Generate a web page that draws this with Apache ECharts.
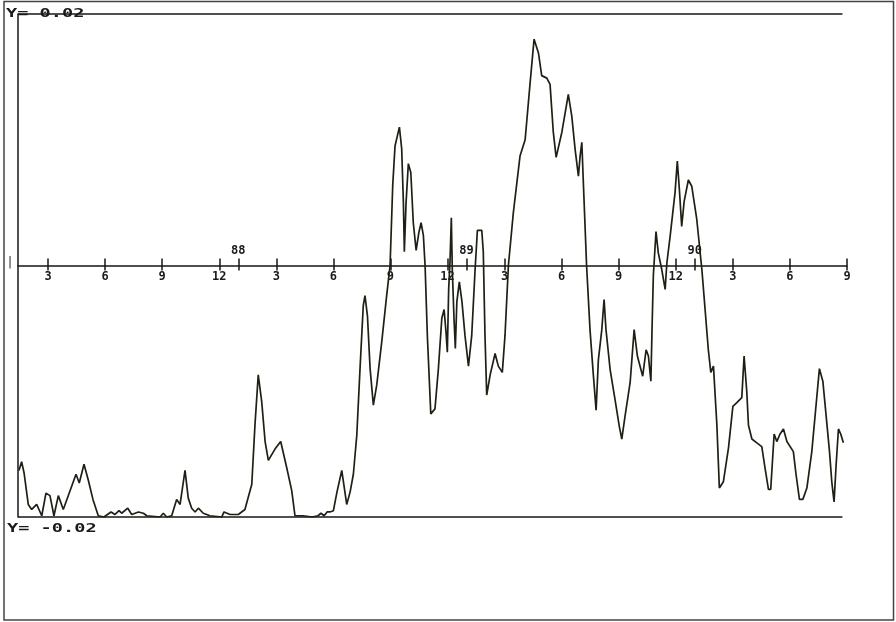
<!DOCTYPE html>
<html>
<head>
<meta charset="utf-8">
<script src="https://cdn.jsdelivr.net/npm/echarts@6/dist/echarts.min.js"></script>
<style>
  html, body { margin: 0; padding: 0; background: #fff; }
  #chart { width: 896px; height: 622px; }
</style>
</head>
<body>
<div id="chart"></div>
<script>
// Time in months counted from December 1986 (13 = January 1988)
var months = [
  1.47, 1.61, 1.74, 1.96, 2.14, 2.40, 2.67, 2.89, 3.10, 3.31, 3.54, 3.80,
  4.47, 4.64, 4.89, 5.12, 5.36, 5.64, 5.94, 6.31, 6.52, 6.73, 6.87, 7.19,
  7.40, 7.75, 8.01, 8.19, 8.89, 9.06, 9.24, 9.50, 9.76, 9.94, 10.20, 10.37,
  10.55, 10.73, 10.90, 11.16, 11.51, 12.13, 12.25, 12.57, 13.00, 13.35, 13.71, 13.88,
  14.05, 14.23, 14.41, 14.58, 14.93, 15.23, 15.55, 15.81, 15.98, 16.40, 16.88, 17.19,
  17.35, 17.51, 17.67, 17.82, 18.00, 18.19, 18.44, 18.70, 18.88, 19.05, 19.23, 19.40,
  19.57, 19.66, 19.79, 19.93, 20.10, 20.28, 20.54, 20.80, 20.98, 21.12, 21.24, 21.47,
  21.59, 21.68, 21.73, 21.82, 21.94, 22.07, 22.20, 22.35, 22.49, 22.61, 22.73, 22.82,
  22.94, 23.12, 23.34, 23.52, 23.70, 23.82, 23.92, 23.99, 24.06, 24.13, 24.20, 24.25,
  24.34, 24.41, 24.49, 24.62, 24.76, 24.92, 25.10, 25.27, 25.45, 25.57, 25.80, 25.88,
  25.97, 26.06, 26.24, 26.50, 26.67, 26.88, 27.02, 27.20, 27.46, 27.81, 28.08, 28.34,
  28.55, 28.78, 28.95, 29.22, 29.39, 29.56, 29.71, 30.01, 30.35, 30.53, 30.71, 30.88,
  30.97, 31.06, 31.14, 31.31, 31.49, 31.67, 31.81, 31.93, 32.11, 32.23, 32.33, 32.55,
  32.81, 33.03, 33.16, 33.33, 33.60, 33.81, 33.98, 34.26, 34.44, 34.56, 34.69, 34.75,
  34.82, 34.96, 35.08, 35.26, 35.44, 35.53, 35.70, 35.96, 36.08, 36.19, 36.31, 36.44,
  36.66, 36.84, 37.10, 37.37, 37.54, 37.71, 37.84, 37.98, 38.16, 38.29, 38.50, 38.77,
  39.00, 39.21, 39.47, 39.59, 39.73, 39.82, 40.00, 40.26, 40.52, 40.69, 40.87, 40.99,
  41.17, 41.31, 41.48, 41.66, 41.84, 42.18, 42.32, 42.50, 42.68, 42.89, 43.15, 43.41,
  43.55, 43.73, 43.90, 44.08, 44.20, 44.32, 44.43, 44.55, 44.67, 44.81
];

var values = [
  -0.0163, -0.0156, -0.0165, -0.0190, -0.0194, -0.0190, -0.0199, -0.0181, -0.0183, -0.0199, -0.0183, -0.0194,
  -0.0166, -0.0173, -0.0158, -0.0171, -0.0186, -0.0199, -0.0200, -0.0196, -0.0198, -0.0195, -0.0197, -0.0193,
  -0.0198, -0.0196, -0.0197, -0.0199, -0.0200, -0.0197, -0.0200, -0.0199, -0.0186, -0.0190, -0.0163, -0.0185,
  -0.0193, -0.0196, -0.0193, -0.0197, -0.0199, -0.0200, -0.0196, -0.0198, -0.0198, -0.0194, -0.0174, -0.0126,
  -0.0087, -0.0108, -0.0140, -0.0155, -0.0146, -0.0140, -0.0161, -0.0179, -0.0199, -0.0199, -0.0200, -0.0199,
  -0.0197, -0.0199, -0.0196, -0.0196, -0.0195, -0.0180, -0.0163, -0.0190, -0.0180, -0.0166, -0.0135, -0.0082,
  -0.0032, -0.0024, -0.0040, -0.0082, -0.0111, -0.0095, -0.0061, -0.0024, 0.0000, 0.0064, 0.0095, 0.0110,
  0.0093, 0.0050, 0.0011, 0.0050, 0.0081, 0.0074, 0.0034, 0.0012, 0.0026, 0.0034, 0.0024, 0.0000,
  -0.0056, -0.0118, -0.0114, -0.0082, -0.0042, -0.0035, -0.0053, -0.0069, -0.0019, 0.0003, 0.0038, -0.0003,
  -0.0042, -0.0066, -0.0029, -0.0013, -0.0029, -0.0056, -0.0080, -0.0056, -0.0003, 0.0028, 0.0028, 0.0011,
  -0.0056, -0.0103, -0.0087, -0.0070, -0.0080, -0.0085, -0.0056, 0.0000, 0.0042, 0.0087, 0.0100, 0.0145,
  0.0180, 0.0169, 0.0151, 0.0149, 0.0144, 0.0106, 0.0086, 0.0106, 0.0136, 0.0119, 0.0092, 0.0071,
  0.0087, 0.0098, 0.0066, 0.0000, -0.0051, -0.0088, -0.0115, -0.0075, -0.0051, -0.0027, -0.0051, -0.0083,
  -0.0107, -0.0128, -0.0138, -0.0120, -0.0093, -0.0051, -0.0072, -0.0088, -0.0067, -0.0072, -0.0092, -0.0051,
  -0.0008, 0.0027, 0.0010, -0.0003, -0.0019, 0.0002, 0.0023, 0.0058, 0.0083, 0.0060, 0.0031, 0.0051,
  0.0068, 0.0063, 0.0037, -0.0003, -0.0035, -0.0067, -0.0085, -0.0080, -0.0127, -0.0177, -0.0172, -0.0145,
  -0.0112, -0.0109, -0.0105, -0.0072, -0.0100, -0.0127, -0.0138, -0.0141, -0.0144, -0.0161, -0.0178, -0.0178,
  -0.0134, -0.0140, -0.0134, -0.0130, -0.0140, -0.0148, -0.0166, -0.0186, -0.0186, -0.0177, -0.0148, -0.0105,
  -0.0082, -0.0092, -0.0119, -0.0148, -0.0172, -0.0188, -0.0158, -0.0130, -0.0134, -0.0141
];

// Quarterly month ticks and their labels
var monthTicks  = [3, 6, 9, 12, 15, 18, 21, 24, 27, 30, 33, 36, 39, 42, 45];
var monthLabels = ['3', '6', '9', '12', '3', '6', '9', '12', '3', '6', '9', '12', '3', '6', '9'];
// January of each new year
var yearTicks  = [13, 25, 37];
var yearLabels = ['88', '89', '90'];

// Horizontal reference levels
var upperLevel = 0.02;
var lowerLevel = -0.02;
var upperText = 'Y= 0.02';
var lowerText = 'Y= -0.02';

var xMin = 1.42, xMax = 45, levelEnd = 44.76;

var gridTop = 14, gridBottom = 105, chartHeight = 622;
// distance from either grid edge to the zero line (grid is symmetric about 0)
var halfPlot = (chartHeight - gridTop - gridBottom) / 2;

var seriesData = months.map(function (m, i) { return [m, values[i]]; });
var allTicks = monthTicks.concat(yearTicks);

var ink = '#161616';
var labelFont = { fontFamily: 'DejaVu Sans Mono', fontWeight: 'bold', fontSize: 12, color: '#1a1a1a' };

var chart = echarts.init(document.getElementById('chart'), null, { renderer: 'canvas' });

chart.setOption({
  animation: false,
  backgroundColor: '#ffffff',
  grid: { left: 18, right: 49, top: gridTop, bottom: gridBottom, containLabel: false, outerBoundsMode: 'none' },
  xAxis: [
    {
      // month axis drawn across the middle (zero) of the plot
      type: 'value', min: xMin, max: xMax, position: 'bottom', offset: -halfPlot,
      splitLine: { show: false },
      axisLine: { show: true, onZero: false, lineStyle: { color: ink, width: 1.5 } },
      axisTick: { show: true, customValues: allTicks, length: 5, lineStyle: { color: ink, width: 1.5 } },
      axisLabel: Object.assign({
        customValues: monthTicks, margin: 5,
        formatter: function (v) {
          var i = monthTicks.indexOf(Math.round(v));
          return i >= 0 ? monthLabels[i] : '';
        }
      }, labelFont)
    },
    {
      // upper half of the ticks plus the year marks
      type: 'value', min: xMin, max: xMax, position: 'top', offset: -halfPlot,
      splitLine: { show: false },
      axisLine: { show: false, onZero: false },
      axisTick: { show: true, customValues: allTicks, length: 7, lineStyle: { color: ink, width: 1.5 } },
      axisLabel: Object.assign({
        customValues: yearTicks, margin: 9,
        formatter: function (v) {
          var i = yearTicks.indexOf(Math.round(v));
          return i >= 0 ? yearLabels[i] : '';
        }
      }, labelFont)
    }
  ],
  yAxis: {
    type: 'value', min: lowerLevel, max: upperLevel,
    splitLine: { show: false },
    axisLine: { show: true, onZero: false, lineStyle: { color: ink, width: 1.5 } },
    axisTick: { show: false },
    axisLabel: { show: false }
  },
  series: [{
    type: 'line',
    xAxisIndex: 0,
    data: seriesData,
    showSymbol: false,
    z: 5,
    lineStyle: { color: '#1c2114', width: 1.7 },
    markLine: {
      silent: true,
      symbol: 'none',
      label: { show: false },
      lineStyle: { color: ink, width: 1.5, type: 'solid' },
      data: [
        [{ coord: [xMin, upperLevel] }, { coord: [levelEnd, upperLevel] }],
        [{ coord: [xMin, lowerLevel] }, { coord: [levelEnd, lowerLevel] }]
      ]
    }
  }],
  graphic: [
    {
      type: 'rect', silent: true,
      shape: { x: 4, y: 1.5, width: 889.5, height: 618.5 },
      style: { fill: null, stroke: '#444', lineWidth: 1.5 }
    },
    {
      type: 'text', x: 6, y: 14, scaleX: 1.55, z: 10,
      style: { text: upperText, font: 'bold 12px "DejaVu Sans Mono"', fill: '#1a1a1a', textVerticalAlign: 'middle' }
    },
    {
      type: 'text', x: 7, y: 529, scaleX: 1.55, z: 10,
      style: { text: lowerText, font: 'bold 12px "DejaVu Sans Mono"', fill: '#1a1a1a', textVerticalAlign: 'middle' }
    },
    {
      type: 'text', x: 8, y: 263, z: 10,
      style: { text: '|', font: '12px "DejaVu Sans"', fill: '#222', textVerticalAlign: 'middle' }
    }
  ]
});
</script>
</body>
</html>
